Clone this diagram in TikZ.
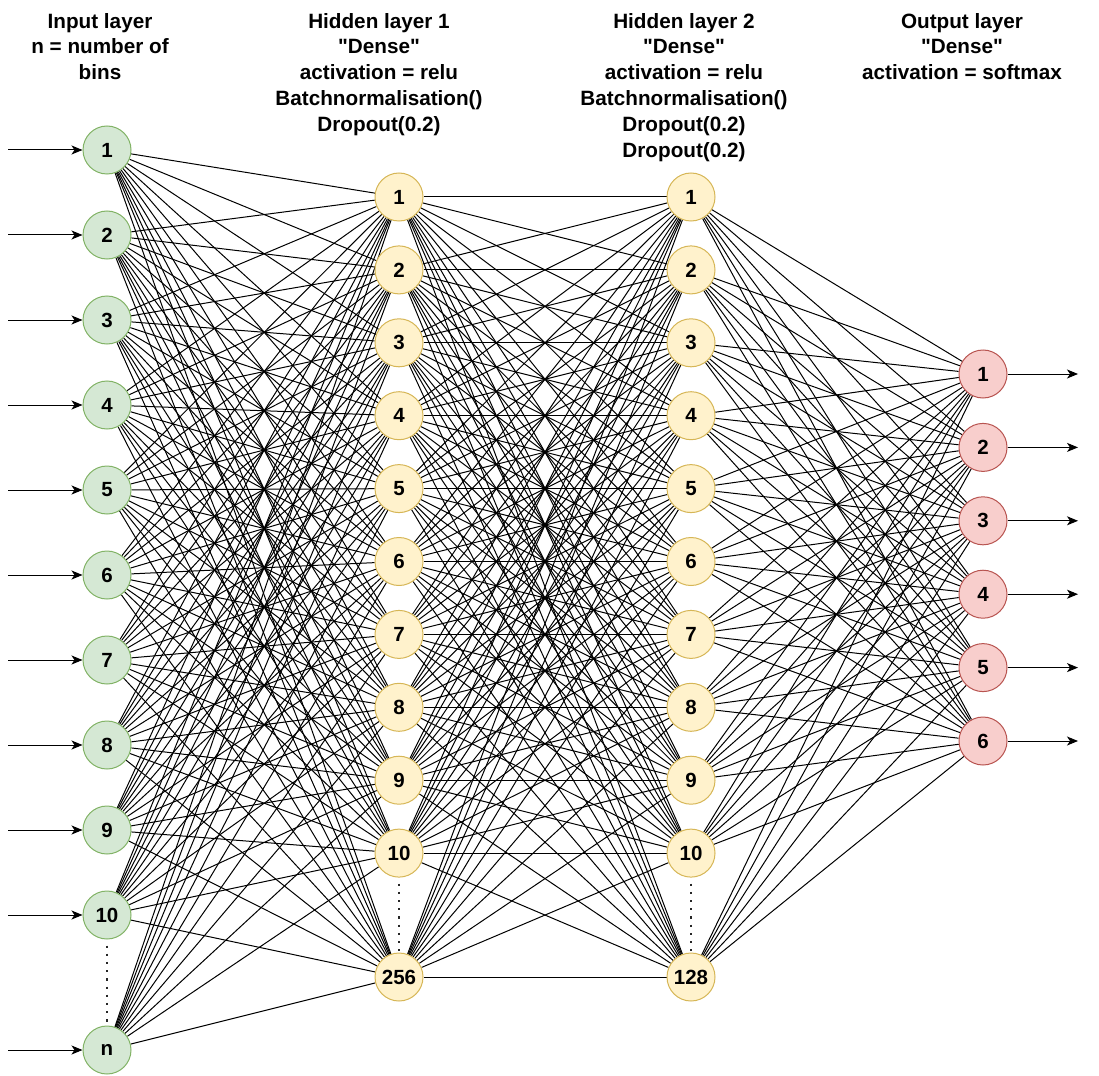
\documentclass[tikz,border=0pt]{standalone}
\usepackage{fontspec}
\setmainfont{Liberation Sans}[Ligatures=TeXOff]
\usetikzlibrary{arrows.meta,backgrounds}
\definecolor{inFill}{HTML}{D5E8D4}
\definecolor{inLine}{HTML}{82B366}
\definecolor{hidFill}{HTML}{FFF2CC}
\definecolor{hidLine}{HTML}{D6B656}
\definecolor{outFill}{HTML}{F8CECC}
\definecolor{outLine}{HTML}{B85450}
\begin{document}
\begin{tikzpicture}[x=1pt,y=-1pt,
  neuron/.style={circle,line width=1pt,minimum size=48pt,inner sep=0pt,
    font=\fontsize{20.5}{24}\selectfont\bfseries},
  inneuron/.style={neuron,fill=inFill,draw=inLine},
  hidneuron/.style={neuron,fill=hidFill,draw=hidLine},
  outneuron/.style={neuron,fill=outFill,draw=outLine},
  link/.style={line width=1pt,black},
  flow/.style={line width=1pt,black,-{Stealth[length=11pt,width=9pt,inset=3pt]}},
  gap/.style={line width=2.2pt,black!85,dash pattern=on 2.2pt off 6pt},
  layertitle/.style={align=center,anchor=north,inner sep=0pt,
    font=\fontsize{20.7}{25.8}\selectfont\bfseries}]
\useasboundingbox (0,0) rectangle (1099,1075);

% layer titles
\node[layertitle] (tin) at (100,13) {Input layer\\n = number of\\bins};
\node[layertitle] (th1) at (379,13) {Hidden layer 1\\"Dense"\\activation = relu\\Batchnormalisation()\\Dropout(0.2)};
\node[layertitle] (th2) at (684,13) {Hidden layer 2\\"Dense"\\activation = relu\\Batchnormalisation()\\Dropout(0.2)\\Dropout(0.2)};
\node[layertitle] (tout) at (962,13) {Output layer\\"Dense"\\activation = softmax};

% input layer
\foreach \k in {1,...,10}
  \node[inneuron] (i\k) at (107,{150+85*(\k-1)}) {\k};
\node[inneuron] (i11) at (107,1050) {n};

% hidden layer 1
\foreach \k in {1,...,10}
  \node[hidneuron] (a\k) at (399,{197+72.9*(\k-1)}) {\k};
\node[hidneuron] (a11) at (399,977) {256};

% hidden layer 2
\foreach \k in {1,...,10}
  \node[hidneuron] (b\k) at (691,{197+72.9*(\k-1)}) {\k};
\node[hidneuron] (b11) at (691,977) {128};

% output layer
\foreach \k in {1,...,6}
  \node[outneuron] (o\k) at (983,{374+73.4*(\k-1)}) {\k};

% dense connections
\begin{scope}[on background layer]
  \foreach \p in {1,...,11}
    \foreach \q in {1,...,11}
      \draw[link] (i\p) -- (a\q);
  \foreach \p in {1,...,11}
    \foreach \q in {1,...,11}
      \draw[link] (a\p) -- (b\q);
  \foreach \p in {1,...,11}
    \foreach \q in {1,...,6}
      \draw[link] (b\p) -- (o\q);
\end{scope}

% inputs and outputs
\foreach \k in {1,...,11} {
  \coordinate (s\k) at (8,0 |- i\k);
  \draw[flow] (s\k) -- (i\k.west);
}
\foreach \k in {1,...,6} {
  \coordinate (t\k) at (1078,0 |- o\k);
  \draw[flow] (o\k.east) -- (t\k);
}

% omitted neurons
\draw[gap] ([yshift=-6pt]i10.south) -- (i11.north);
\draw[gap] ([yshift=-6pt]a10.south) -- (a11.north);
\draw[gap] ([yshift=-6pt]b10.south) -- (b11.north);
\end{tikzpicture}
\end{document}
